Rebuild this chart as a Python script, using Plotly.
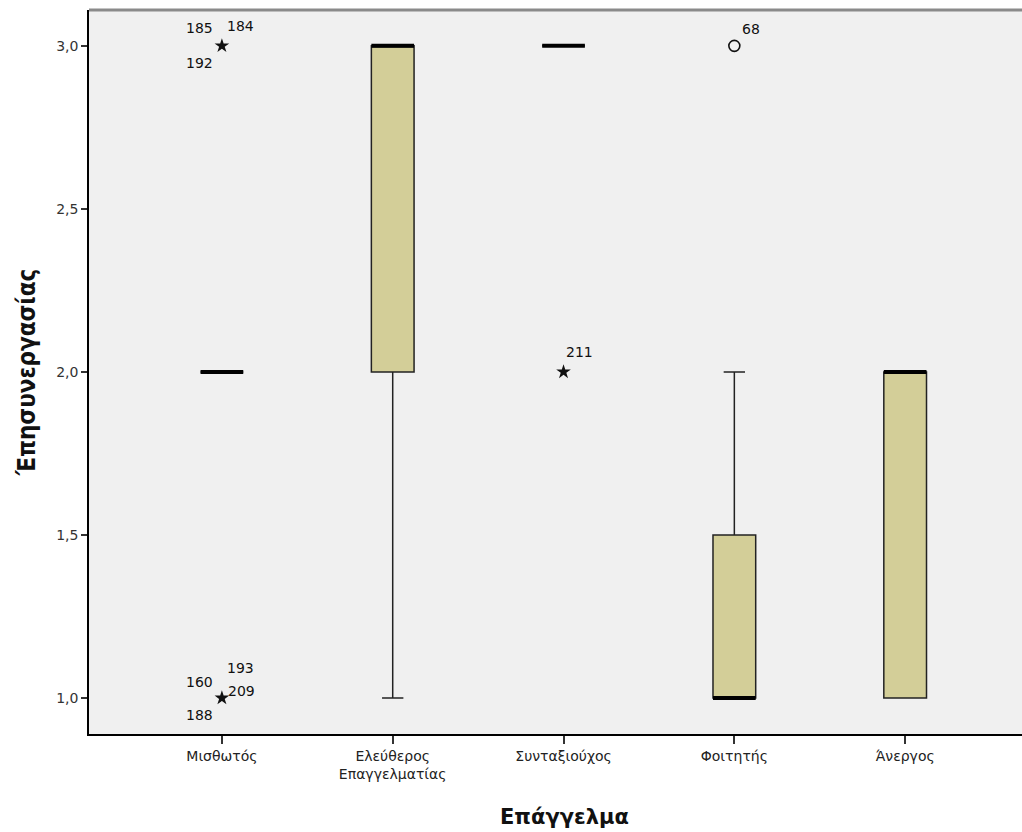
import plotly.graph_objects as go

# Occupation groups and five-number summaries of years of cooperation
categories = ["Μισθωτός", "Ελεύθερος<br>Επαγγελματίας", "Συνταξιούχος", "Φοιτητής", "Άνεργος"]
lower_whisker = [2.0, 1.0, 3.0, 1.0, 1.0]
q1_values = [2.0, 2.0, 3.0, 1.0, 1.0]
median_values = [2.0, 3.0, 3.0, 1.0, 2.0]
q3_values = [2.0, 3.0, 3.0, 1.5, 2.0]
upper_whisker = [2.0, 3.0, 3.0, 2.0, 2.0]

# Outlying cases: extreme (star) and mild (circle)
extreme_cat = [0, 0, 2]
extreme_val = [3.0, 1.0, 2.0]
mild_cat = [3]
mild_val = [3.0]

# Case id labels with their offsets (pixels) around each outlier
case_labels = [
    (0, 3.0, "185", -22, 18), (0, 3.0, "184", 19, 20), (0, 3.0, "192", -22, -17),
    (0, 1.0, "160", -22, 16), (0, 1.0, "193", 19, 30), (0, 1.0, "209", 20, 7),
    (0, 1.0, "188", -22, -17),
    (2, 2.0, "211", 16, 20),
    (3, 3.0, "68", 17, 17),
]

positions = list(range(len(categories)))
box_w = 0.25
font_family = "DejaVu Sans, Verdana, sans-serif"
title_family = "DejaVu Sans Condensed, DejaVu Sans, sans-serif"

fig = go.Figure()

fig.add_trace(go.Box(
    x=positions,
    lowerfence=lower_whisker,
    q1=q1_values,
    median=median_values,
    q3=q3_values,
    upperfence=upper_whisker,
    width=box_w,
    whiskerwidth=0.5,
    fillcolor="#D3CE98",
    line=dict(color="#222222", width=1.5),
    boxpoints=False,
    hoverinfo="skip",
    showlegend=False,
))

# Bold median bars
mx, my = [], []
for p, m in zip(positions, median_values):
    mx += [p - box_w / 2, p + box_w / 2, None]
    my += [m, m, None]
fig.add_trace(go.Scatter(
    x=mx, y=my, mode="lines",
    line=dict(color="black", width=4),
    hoverinfo="skip", showlegend=False,
))

fig.add_trace(go.Scatter(
    x=extreme_cat, y=extreme_val, mode="markers",
    marker=dict(symbol="star", size=11, color="#111111", line=dict(width=0)),
    hoverinfo="skip", showlegend=False,
))
fig.add_trace(go.Scatter(
    x=mild_cat, y=mild_val, mode="markers",
    marker=dict(symbol="circle-open", size=11, color="#111111", line=dict(width=1.6)),
    hoverinfo="skip", showlegend=False,
))

for c, v, txt, dx, dy in case_labels:
    fig.add_annotation(
        x=c, y=v, text=txt, showarrow=False,
        xshift=dx, yshift=dy,
        font=dict(family=font_family, size=14, color="#111111"),
    )

# X-axis title, centred under the category band
fig.add_annotation(
    xref="paper", yref="paper", x=0.51, y=0, yanchor="middle", yshift=-83,
    text="<b>Επάγγελμα</b>", showarrow=False,
    font=dict(family=font_family, size=21, color="#111111"),
)

# Top frame edge
fig.add_shape(type="line", xref="paper", yref="paper", x0=0, x1=1, y0=1, y1=1,
              line=dict(color="#8a8a8a", width=3))

fig.update_layout(
    width=1022, height=832,
    margin=dict(l=89, r=0, t=10, b=98),
    paper_bgcolor="white",
    plot_bgcolor="#F0F0F0",
    separators=",.",
    font=dict(family=font_family, size=13, color="#222222"),
    xaxis=dict(
        range=[-0.778, 4.684],
        tickmode="array", tickvals=positions, ticktext=categories,
        showgrid=False, zeroline=False,
        showline=True, linecolor="black", linewidth=1.5,
        ticks="outside", ticklen=8, tickcolor="#333333", tickwidth=1.5,
        tickfont=dict(family=font_family, size=14, color="#222222"),
    ),
    yaxis=dict(
        range=[0.8896, 3.110],
        tickmode="array", tickvals=[1.0, 1.5, 2.0, 2.5, 3.0], tickformat=".1f",
        showgrid=False, zeroline=False,
        showline=True, linecolor="black", linewidth=1.5,
        ticks="outside", ticklen=6, tickcolor="#333333", tickwidth=1.5,
        tickfont=dict(family=font_family, size=14, color="#333333"),
        title=dict(text="<b>Έπησυνεργασίας</b>", font=dict(family=title_family, size=24, color="#111111"),
                   standoff=14),
    ),
)

fig.write_html("out.html")
